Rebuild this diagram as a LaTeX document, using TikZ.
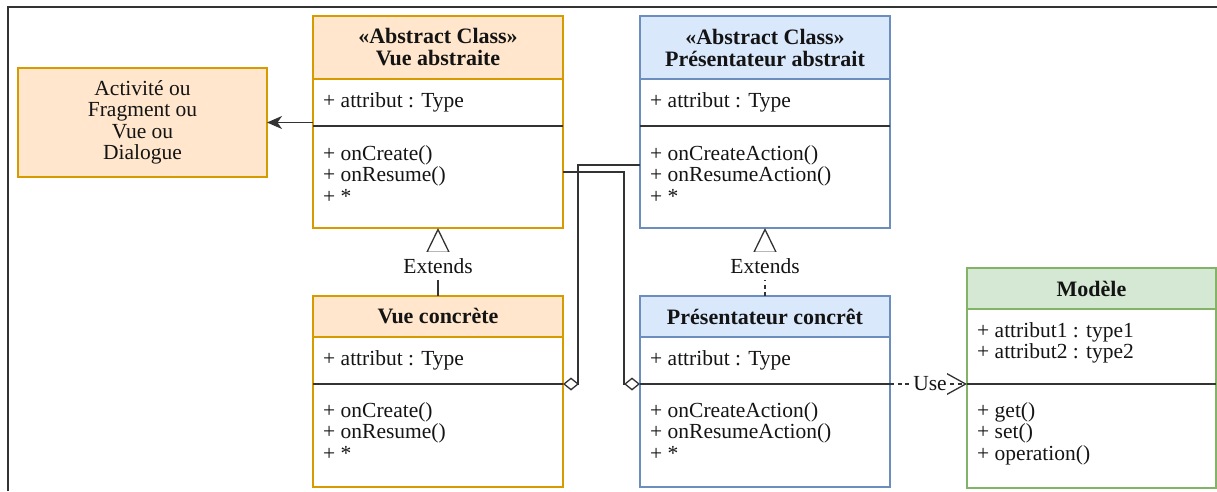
\documentclass[tikz,border=0pt]{standalone}
\usepackage{fontspec}
\setmainfont{Liberation Serif}
\usetikzlibrary{arrows.meta,calc}
\definecolor{orfill}{HTML}{FFE6CC}
\definecolor{orline}{HTML}{D79B00}
\definecolor{blfill}{HTML}{DAE8FC}
\definecolor{blline}{HTML}{6C8EBF}
\definecolor{grfill}{HTML}{D5E8D4}
\definecolor{grline}{HTML}{82B366}
\definecolor{ink}{HTML}{141414}
\definecolor{rule}{HTML}{333333}
\tikzset{
  base font/.style={font=\fontsize{21.5}{21.5}\selectfont},
  classpart/.style={line width=1.2pt, inner sep=0pt, anchor=north west,
    minimum width=250pt, outer sep=0pt},
  header/.style={classpart, font=\fontsize{22}{22}\selectfont\bfseries,
    align=center, text=ink},
  members/.style={base font, inner sep=0pt, align=left, anchor=north west, text=ink},
  divider/.style={draw=rule, line width=1.5pt},
  link/.style={draw=rule, line width=1.3pt},
  inherit/.style={link, -{Triangle[fill=white, length=25pt, width=24pt]}},
  aggregate/.style={link, -{Diamond[fill=white, length=16pt, width=13pt]}},
  uses/.style={link, dash pattern=on 4pt off 3.5pt,
    -{Straight Barb[length=19pt, width=21pt]}},
  tag/.style={base font, fill=white, inner xsep=1.5pt, inner ysep=4pt, text=ink},
}
\begin{document}
\begin{tikzpicture}[x=1pt, y=-1pt]
\useasboundingbox (0,0) rectangle (1217,491);
% page frame
\draw[draw=rule, line width=1.3pt] (8,491) -- (8,7) -- (1217,7);

% Android component
\node[classpart, draw=orline, fill=orfill, minimum width=249pt, minimum height=109pt,
  base font, align=center, text=ink] (act) at (18,68)
  {Activité ou\\Fragment ou\\Vue ou\\Dialogue};

% abstract view
\node[header, draw=orline, fill=orfill, minimum height=63pt] (va) at (313,16)
  {«Abstract Class»\\Vue abstraite};
\node[classpart, draw=orline, minimum height=47pt] (va-a) at (va.south west) {};
\node[classpart, draw=orline, minimum height=102pt] (va-o) at (va-a.south west) {};
\draw[divider] (va-o.north west) -- (va-o.north east);
\node[members] (va-at) at ([shift={(10pt,-13pt)}]va-a.north west) {+ attribut : Type};
\node[members] (va-ot) at ([shift={(10pt,-19pt)}]va-o.north west)
  {+ onCreate()\\+ onResume()\\+ *};

% abstract presenter
\node[header, draw=blline, fill=blfill, minimum height=63pt] (pa) at (640,16)
  {«Abstract Class»\\Présentateur abstrait};
\node[classpart, draw=blline, minimum height=47pt] (pa-a) at (pa.south west) {};
\node[classpart, draw=blline, minimum height=102pt] (pa-o) at (pa-a.south west) {};
\draw[divider] (pa-o.north west) -- (pa-o.north east);
\node[members] (pa-at) at ([shift={(10pt,-13pt)}]pa-a.north west) {+ attribut : Type};
\node[members] (pa-ot) at ([shift={(10pt,-19pt)}]pa-o.north west)
  {+ onCreateAction()\\+ onResumeAction()\\+ *};

% concrete view
\node[header, draw=orline, fill=orfill, minimum height=41pt] (vc) at (313,296)
  {Vue concrète};
\node[classpart, draw=orline, minimum height=47pt] (vc-a) at (vc.south west) {};
\node[classpart, draw=orline, minimum height=103pt] (vc-o) at (vc-a.south west) {};
\draw[divider] (vc-o.north west) -- (vc-o.north east);
\node[members] (vc-at) at ([shift={(10pt,-13.5pt)}]vc-a.north west) {+ attribut : Type};
\node[members] (vc-ot) at ([shift={(10pt,-18pt)}]vc-o.north west)
  {+ onCreate()\\+ onResume()\\+ *};

% concrete presenter
\node[header, draw=blline, fill=blfill, minimum height=41pt] (pc) at (640,296)
  {Présentateur concrêt};
\node[classpart, draw=blline, minimum height=47pt] (pc-a) at (pc.south west) {};
\node[classpart, draw=blline, minimum height=103pt] (pc-o) at (pc-a.south west) {};
\draw[divider] (pc-o.north west) -- (pc-o.north east);
\node[members] (pc-at) at ([shift={(10pt,-13.5pt)}]pc-a.north west) {+ attribut : Type};
\node[members] (pc-ot) at ([shift={(10pt,-18pt)}]pc-o.north west)
  {+ onCreateAction()\\+ onResumeAction()\\+ *};

% model
\node[header, draw=grline, fill=grfill, minimum width=249pt, minimum height=41pt] (mo) at (967,268)
  {Modèle};
\node[classpart, draw=grline, minimum width=249pt, minimum height=75pt] (mo-a) at (mo.south west) {};
\node[classpart, draw=grline, minimum width=249pt, minimum height=104pt] (mo-o) at (mo-a.south west) {};
\draw[divider] (mo-o.north west) -- (mo-o.north east);
\node[members] (mo-at) at ([shift={(10pt,-13pt)}]mo-a.north west)
  {+ attribut1 : type1\\+ attribut2 : type2};
\node[members] (mo-ot) at ([shift={(10pt,-18pt)}]mo-o.north west)
  {+ get()\\+ set()\\+ operation()};

% relations
\draw[link, line width=1.6pt, -{Stealth[length=15pt, width=13pt, inset=4.5pt]}]
  (act.east -| va.west) -- (act.east);

\draw[aggregate] ([yshift=-39pt]pa-o.north west) -- ++(-62,0) |- (vc-o.north east);
\draw[aggregate] ([yshift=-46pt]va-o.north east) -- ++(61,0) |- (pc-o.north west);

\draw[inherit] (vc.north) -- node[tag, pos=0.44, inner ysep=6.5pt] (ext1) {Extends} (va-o.south);
\draw[inherit, dash pattern=on 4pt off 3.5pt] (pc.north) -- node[tag, pos=0.44, inner ysep=6.5pt] (ext2) {Extends} (pa-o.south);

\draw[uses] (pc-o.north east) -- node[tag, inner xsep=0.5pt, pos=0.52] (use) {Use} (mo-o.north west);
\end{tikzpicture}
\end{document}
